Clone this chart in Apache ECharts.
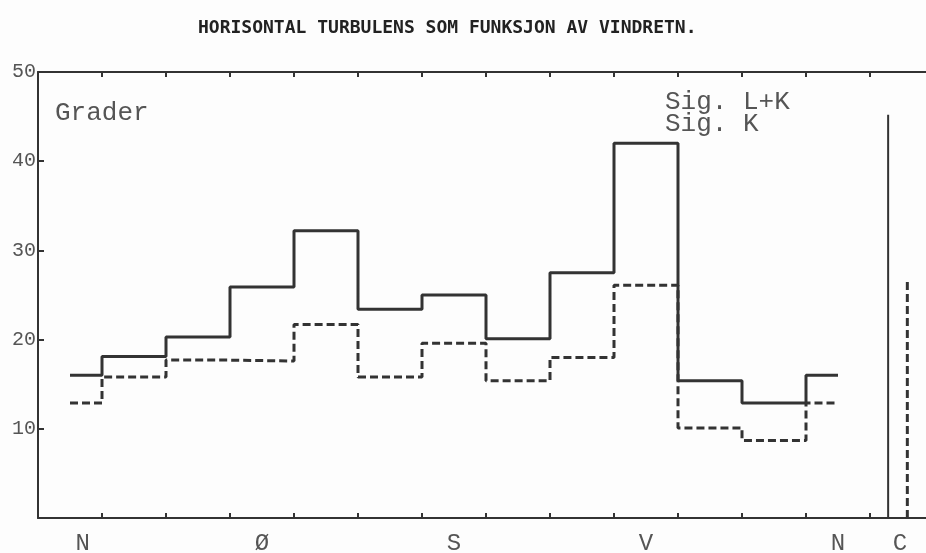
<!DOCTYPE html>
<html>
<head>
<meta charset="utf-8">
<script src="https://cdn.jsdelivr.net/npm/echarts@6/dist/echarts.min.js"></script>
<style>
  html, body { margin: 0; padding: 0; background: #fdfdfd; }
  #chart { width: 926px; height: 553px; }
</style>
</head>
<body>
<div id="chart"></div>
<script>
// Wind-direction sectors in degrees (half sector at each end for N)
const sectorEdges = [0, 15, 45, 75, 105, 135, 165, 195, 225, 255, 285, 315, 345, 360];
// Horizontal turbulence (degrees) per sector, N first and repeated last
const sigLK = [16.0, 18.1, 20.3, 25.9, 32.2, 23.4, 25.0, 20.1, 27.5, 42.0, 15.4, 12.9, 16.0];
const sigK  = [12.9, 15.8, 17.7, 17.6, 21.7, 15.8, 19.6, 15.4, 18.0, 26.1, 10.1, 8.7, 12.9];
// Calm conditions (C)
const calmX = [383.5, 392.5];
const calmLK = 45.2;
const calmK = 26.9;
// Axis ticks and direction labels
const tickAt = [15, 45, 75, 105, 135, 165, 195, 225, 255, 285, 315, 345, 375];
const labelAt = [6, 90, 180, 270, 360, 389];
const labelText = ['N', 'Ø', 'S', 'V', 'N', 'C'];
const yTicks = [10, 20, 30, 40, 50];

function stepPoints(values) {
  const pts = [];
  values.forEach((v, i) => {
    pts.push([sectorEdges[i], v]);
    pts.push([sectorEdges[i + 1], v]);
  });
  return pts;
}

const ink = '#333';
const textInk = '#555';
const mono = '"Liberation Mono", "DejaVu Sans Mono", monospace';

const chart = echarts.init(document.getElementById('chart'), null, { renderer: 'canvas' });

const xBase = {
  type: 'value',
  min: -15,
  max: 401.25,
  splitLine: { show: false },
  axisLine: { show: true, onZero: false, lineStyle: { color: ink, width: 2 } },
  axisTick: { show: true, inside: true, length: 5, customValues: tickAt, lineStyle: { color: ink, width: 2 } }
};

chart.setOption({
  animation: false,
  backgroundColor: '#fdfdfd',
  title: [
    {
      text: 'HORISONTAL TURBULENS SOM FUNKSJON AV VINDRETN.',
      left: 193, top: 14,
      textStyle: { fontFamily: '"DejaVu Sans Mono", monospace', fontWeight: 'bold', fontSize: 18, color: '#222' }
    },
    {
      text: 'Grader',
      left: 50, top: 95,
      textStyle: { fontFamily: mono, fontWeight: 'normal', fontSize: 26, color: textInk }
    }
  ],
  legend: {
    orient: 'vertical',
    left: 654, top: 84,
    itemWidth: 0, itemHeight: 0, itemGap: -4,
    selectedMode: false,
    data: ['Sig. L+K', 'Sig. K'],
    textStyle: { fontFamily: mono, fontSize: 26, color: textInk },
    itemStyle: { opacity: 0 },
    lineStyle: { opacity: 0 }
  },
  grid: { left: 38, right: 0, top: 72, bottom: 35, containLabel: false, outerBoundsMode: 'none' },
  xAxis: [
    Object.assign({}, xBase, {
      position: 'bottom',
      axisLabel: {
        show: true,
        customValues: labelAt,
        margin: 14,
        fontFamily: mono, fontSize: 24, color: textInk,
        formatter: (v) => {
          const i = labelAt.indexOf(v);
          return i >= 0 ? labelText[i] : '';
        }
      }
    }),
    Object.assign({}, xBase, {
      position: 'top',
      axisLabel: { show: false }
    })
  ],
  yAxis: {
    type: 'value',
    min: 0, max: 50, interval: 10,
    position: 'left',
    splitLine: { show: false },
    axisLine: { show: true, onZero: false, lineStyle: { color: ink, width: 2 } },
    axisTick: { show: true, inside: true, length: 6, lineStyle: { color: ink, width: 2 } },
    axisLabel: {
      margin: 2,
      fontFamily: mono, fontSize: 20, color: textInk,
      formatter: (v) => (yTicks.indexOf(v) >= 0 ? String(v) : '')
    }
  },
  series: [
    {
      name: 'Sig. L+K', type: 'line', xAxisIndex: 0,
      data: stepPoints(sigLK),
      showSymbol: false, symbol: 'none',
      lineStyle: { color: ink, width: 3, type: 'solid' },
      itemStyle: { color: ink }
    },
    {
      name: 'Sig. K', type: 'line', xAxisIndex: 0,
      data: stepPoints(sigK),
      showSymbol: false, symbol: 'none',
      lineStyle: { color: ink, width: 3, type: [8, 4] },
      itemStyle: { color: ink }
    },
    {
      name: 'Sig. L+K', type: 'line', xAxisIndex: 0,
      data: [[calmX[0], 0], [calmX[0], calmLK]],
      showSymbol: false, symbol: 'none',
      lineStyle: { color: ink, width: 2, type: 'solid' },
      itemStyle: { color: ink }
    },
    {
      name: 'Sig. K', type: 'line', xAxisIndex: 0,
      data: [[calmX[1], 0], [calmX[1], calmK]],
      showSymbol: false, symbol: 'none',
      lineStyle: { color: ink, width: 3, type: [8, 4] },
      itemStyle: { color: ink }
    }
  ]
});
</script>
</body>
</html>
